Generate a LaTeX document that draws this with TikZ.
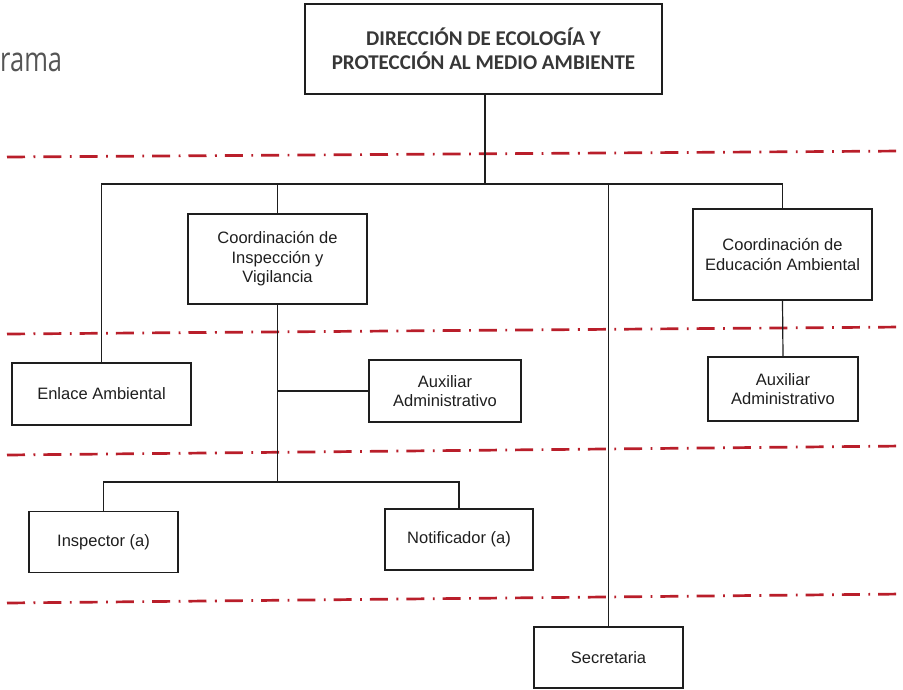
\documentclass[tikz,border=0pt]{standalone}
\usepackage{fontspec}
\setmainfont{Liberation Sans}
\newfontfamily\topfont{Carlito}
\newfontfamily\ramafont[FakeStretch=0.75]{Open Sans}
\definecolor{dashred}{RGB}{185,30,42}
\definecolor{ink}{RGB}{30,30,30}
\definecolor{topink}{RGB}{55,55,55}
\definecolor{titlegray}{RGB}{85,85,85}
\tikzset{
  box/.style={draw=ink, line width=1.4pt, inner sep=0pt, align=center,
    text=ink, font=\fontsize{16.5}{19.5}\selectfont},
  topbox/.style={box, text=topink, font=\topfont\bfseries\fontsize{21}{24}\selectfont},
  conn/.style={draw=ink, line width=1.2pt},
  guide/.style={draw=dashred, line width=2.7pt,
    dash pattern=on 18pt off 8.5pt on 1.8pt off 8pt}
}
\begin{document}
\begin{tikzpicture}[x=1pt,y=-1pt]
\path[use as bounding box] (0,0) rectangle (903,689);
% guide lines
\draw[guide] (7,157) -- (903,151);
\draw[guide] (7,334) -- (903,327);
\draw[guide] (7,455) -- (903,446);
\draw[guide] (7,603) -- (903,594);
% title fragment
\node[anchor=base west, inner sep=0pt, text=titlegray,
  font=\ramafont\fontsize{34}{40}\selectfont] (rama) at (0,71) {rama};
% boxes
\node[topbox, minimum width=357pt, minimum height=90pt] (top) at (483.5,49)
  {DIRECCIÓN DE ECOLOGÍA Y\\PROTECCIÓN AL MEDIO AMBIENTE};
\node[box, minimum width=179pt, minimum height=90pt] (cin) at (277.5,259)
  {Coordinación de\\Inspección y\\Vigilancia};
\node[box, minimum width=179pt, minimum height=91pt] (ced) at (782.5,254.5)
  {Coordinación de\\Educación Ambiental};
\node[box, minimum width=179pt, minimum height=62pt] (enl) at (101.5,394)
  {Enlace Ambiental};
\node[box, minimum width=152pt, minimum height=62pt] (aux1) at (445,391)
  {Auxiliar\\Administrativo};
\node[box, minimum width=150pt, minimum height=64pt] (aux2) at (783,389)
  {Auxiliar\\Administrativo};
\node[box, minimum width=149pt, minimum height=61pt] (ins) at (103.5,542)
  {Inspector (a)};
\node[box, minimum width=148pt, minimum height=61pt] (not) at (459,539.5)
  {Notificador (a)};
\node[box, minimum width=149pt, minimum height=61pt] (sec) at (608.5,657.5)
  {Secretaria};
% connectors
\coordinate (b0) at (485,184);
\coordinate (b2) at (279,482);
\draw[conn] (top.south -| b0) -- (b0);
\draw[conn] (enl.north) -- (enl.north |- b0) -- (ced.north |- b0) -- (ced.north);
\draw[conn] (cin.north) -- (cin.north |- b0);
\draw[conn] (sec.north) -- (sec.north |- b0);
\draw[conn] (cin.south) -- (cin.south |- b2);
\draw[conn] (cin.south |- aux1.west) -- (aux1.west);
\draw[conn] (ins.north) -- (ins.north |- b2) -- (not.north |- b2) -- (not.north);
\draw[conn] (ced.south) -- (aux2.north);
\end{tikzpicture}
\end{document}
